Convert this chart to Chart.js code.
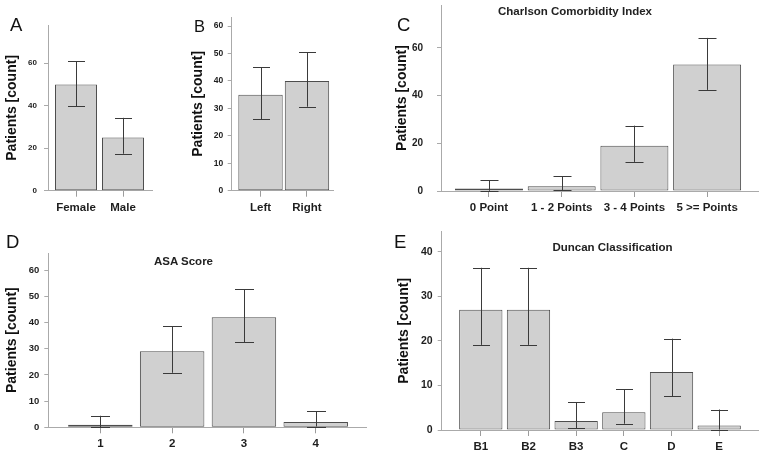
<!DOCTYPE html>
<html><head><meta charset="utf-8">
<script src="https://cdn.jsdelivr.net/npm/chart.js@4.4.1/dist/chart.umd.min.js"></script>
<style>
html,body{margin:0;padding:0;background:#fff;}
body{width:764px;height:457px;position:relative;overflow:hidden;font-family:"Liberation Sans",Arial,sans-serif;}
canvas{position:absolute;}
.lt{position:absolute;font-size:18.5px;line-height:18.5px;color:#111;}
.pt{position:absolute;font-weight:bold;font-size:11.5px;line-height:11.5px;color:#222;white-space:nowrap;transform:translateX(-50%);}
</style></head><body>
<canvas id="cA" width="160" height="225" style="left:0px;top:0px"></canvas>
<canvas id="cB" width="160" height="225" style="left:186px;top:0px"></canvas>
<canvas id="cC" width="374" height="225" style="left:390px;top:0px"></canvas>
<canvas id="cD" width="380" height="232" style="left:0px;top:225px"></canvas>
<canvas id="cE" width="372" height="232" style="left:392px;top:225px"></canvas>
<div class="lt" style="left:10px;top:16px">A</div>
<div class="lt" style="left:194px;top:18px;font-size:16.5px;line-height:16.5px">B</div>
<div class="lt" style="left:397px;top:16px">C</div>
<div class="lt" style="left:6px;top:232.5px">D</div>
<div class="lt" style="left:394px;top:232.5px">E</div>
<div class="pt" style="left:575px;top:5.5px">Charlson Comorbidity Index</div>
<div class="pt" style="left:183.5px;top:256px">ASA Score</div>
<div class="pt" style="left:612.5px;top:242px">Duncan Classification</div>
<script>
// ---- data ----
const catsA = ['Female', 'Male'];
const valsA = [50, 25];
const lowA  = [39.7, 17.4];
const highA = [61, 34.3];
const yTicksA = [0, 20, 40, 60];

const catsB = ['Left', 'Right'];
const valsB = [35, 40];
const lowB  = [26, 30.6];
const highB = [45, 50.4];
const yTicksB = [0, 10, 20, 30, 40, 50, 60];

const catsC = ['0 Point', '1 - 2 Points', '3 - 4 Points', '5 >= Points'];
const valsC = [1, 2, 19, 53];
const lowC  = [0.1, 0.3, 12.2, 42.4];
const highC = [4.5, 6.2, 27.4, 64.2];
const yTicksC = [0, 20, 40, 60];

const catsD = ['1', '2', '3', '4'];
const valsD = [1, 29, 42, 2];
const lowD  = [0.1, 20.8, 32.4, 0.3];
const highD = [4.4, 38.6, 52.6, 6.2];
const yTicksD = [0, 10, 20, 30, 40, 50, 60];

const catsE = ['B1', 'B2', 'B3', 'C', 'D', 'E'];
const valsE = [27, 27, 2, 4, 13, 1];
const lowE  = [19.1, 19.1, 0.4, 1.4, 7.6, 0.1];
const highE = [36.4, 36.4, 6.2, 9.2, 20.5, 4.6];
const yTicksE = [0, 10, 20, 30, 40];

// ---- drawing ----
const FONT = '"Liberation Sans", Arial, sans-serif';

const errPlugin = {
  id: 'errbars',
  afterDatasetsDraw(chart, args, opts) {
    const ctx = chart.ctx, xs = chart.scales.x, ys = chart.scales.y;
    ctx.save();
    ctx.strokeStyle = opts.color;
    ctx.lineWidth = 1;
    opts.low.forEach((lo, i) => {
      const x = Math.round(xs.getPixelForValue(i)) + 0.5;
      const y1 = ys.getPixelForValue(lo), y2 = ys.getPixelForValue(opts.high[i]);
      const h = opts.cap / 2;
      ctx.beginPath();
      ctx.moveTo(x, y1); ctx.lineTo(x, y2);
      ctx.moveTo(x - h, Math.round(y1) + 0.5); ctx.lineTo(x + h, Math.round(y1) + 0.5);
      ctx.moveTo(x - h, Math.round(y2) + 0.5); ctx.lineTo(x + h, Math.round(y2) + 0.5);
      ctx.stroke();
    });
    ctx.restore();
  }
};

function makePanel(id, cats, vals, low, high, yTicks, cfg) {
  new Chart(document.getElementById(id), {
    type: 'bar',
    data: {
      datasets: [{
        data: vals.map((v, i) => ({ x: i, y: v })),
        backgroundColor: '#d0d0d0',
        borderColor: '#4d4d4d',
        borderWidth: 1,
        borderSkipped: false,
        categoryPercentage: 1,
        barPercentage: cfg.barPct
      }]
    },
    options: {
      responsive: false,
      animation: false,
      events: [],
      layout: { padding: { top: cfg.padTop, right: cfg.padRight, left: 0, bottom: 0 } },
      plugins: {
        legend: { display: false },
        tooltip: { enabled: false },
        errbars: { low: low, high: high, cap: cfg.cap, color: '#3a3a3a' }
      },
      scales: {
        x: {
          type: 'linear',
          min: cfg.xMin, max: cfg.xMax,
          offset: false,
          grid: { offset: false, drawOnChartArea: false, drawTicks: true, tickLength: 6, color: '#9c9c9c' },
          border: { display: true, color: '#aaaaaa', width: 1 },
          afterBuildTicks: s => { s.ticks = cats.map((c, i) => ({ value: i })); },
          afterFit: s => { s.height = cfg.xH; s.paddingLeft = 0; s.paddingRight = 0; },
          ticks: {
            autoSkip: false, maxRotation: 0, minRotation: 0, padding: 4,
            color: '#1e1e1e',
            font: { family: FONT, size: 11.5, weight: 'bold' },
            callback: v => cats[v]
          }
        },
        y: {
          type: 'linear',
          min: 0, max: cfg.yMax,
          grid: { drawOnChartArea: false, drawTicks: true, tickLength: 4, color: '#aaaaaa' },
          border: { display: true, color: '#aaaaaa', width: 1 },
          afterBuildTicks: s => { s.ticks = yTicks.map(v => ({ value: v })); },
          afterFit: s => { s.width = cfg.yW; s.paddingTop = 0; s.paddingBottom = 0; },
          ticks: {
            padding: cfg.yTickPad,
            color: '#1e1e1e',
            font: { family: FONT, size: cfg.yTickFont, weight: 'bold' },
            callback: v => String(v)
          },
          title: {
            display: true, text: 'Patients [count]', color: '#111',
            font: { family: FONT, size: 14, weight: 'bold' },
            padding: { top: 4, bottom: 0 }
          }
        }
      }
    },
    plugins: [errPlugin]
  });
}

makePanel('cA', catsA, valsA, lowA, highA, yTicksA,
  { yMax: 78, xMin: -0.596, xMax: 1.617, yW: 48, padTop: 25, padRight: 8, xH: 34.3, barPct: 0.894, cap: 17, yTickFont: 8, yTickPad: 7 });
makePanel('cB', catsB, valsB, lowB, highB, yTicksB,
  { yMax: 63.3, xMin: -0.62, xMax: 1.56, yW: 45.7, padTop: 17, padRight: 13, xH: 34.3, barPct: 0.955, cap: 17, yTickFont: 8.5, yTickPad: 4.5 });
makePanel('cC', catsC, valsC, lowC, highC, yTicksC,
  { yMax: 78, xMin: -0.66, xMax: 3.70, yW: 51, padTop: 5, padRight: 6, xH: 34, barPct: 0.935, cap: 18, yTickFont: 10, yTickPad: 14 });
makePanel('cD', catsD, valsD, lowD, highD, yTicksD,
  { yMax: 66.5, xMin: -0.725, xMax: 3.71, yW: 48.3, padTop: 28, padRight: 13.3, xH: 29.7, barPct: 0.898, cap: 19, yTickFont: 9.5, yTickPad: 5 });
makePanel('cE', catsE, valsE, lowE, highE, yTicksE,
  { yMax: 44.5, xMin: -0.82, xMax: 5.82, yW: 49.7, padTop: 6.7, padRight: 5.7, xH: 27, barPct: 0.908, cap: 17, yTickFont: 10.5, yTickPad: 5 });
</script>
</body></html>
